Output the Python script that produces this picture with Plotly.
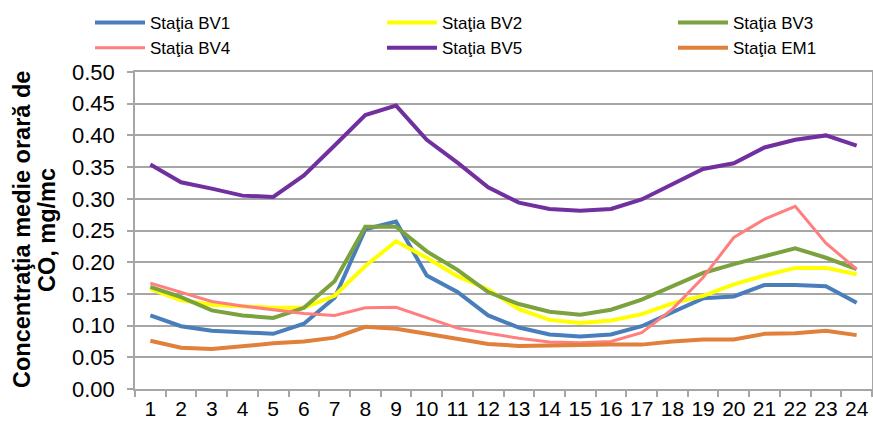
import plotly.graph_objects as go

# ore 1..24
hours = [str(h) for h in range(1, 25)]

bv1 = [0.116, 0.099, 0.092, 0.090, 0.087, 0.103, 0.144, 0.252, 0.264, 0.179, 0.153, 0.116,
       0.097, 0.086, 0.083, 0.086, 0.099, 0.121, 0.143, 0.146, 0.164, 0.164, 0.162, 0.136]
bv2 = [0.158, 0.140, 0.133, 0.131, 0.128, 0.128, 0.147, 0.194, 0.233, 0.207, 0.178, 0.157,
       0.126, 0.109, 0.104, 0.108, 0.118, 0.135, 0.147, 0.165, 0.179, 0.191, 0.191, 0.181]
bv3 = [0.161, 0.145, 0.124, 0.116, 0.112, 0.128, 0.170, 0.256, 0.256, 0.217, 0.188, 0.153,
       0.134, 0.122, 0.117, 0.125, 0.141, 0.162, 0.183, 0.197, 0.209, 0.222, 0.207, 0.189]
bv4 = [0.167, 0.153, 0.138, 0.131, 0.125, 0.119, 0.116, 0.128, 0.129, 0.112, 0.096, 0.088,
       0.080, 0.074, 0.073, 0.075, 0.089, 0.126, 0.176, 0.239, 0.268, 0.288, 0.230, 0.189]
bv5 = [0.354, 0.326, 0.316, 0.305, 0.303, 0.337, 0.384, 0.432, 0.447, 0.393, 0.357, 0.318,
       0.294, 0.284, 0.281, 0.284, 0.299, 0.323, 0.347, 0.356, 0.381, 0.393, 0.400, 0.384]
em1 = [0.076, 0.065, 0.063, 0.068, 0.072, 0.075, 0.081, 0.098, 0.095, 0.087, 0.079, 0.071,
       0.068, 0.069, 0.069, 0.070, 0.070, 0.075, 0.078, 0.078, 0.087, 0.088, 0.092, 0.085]

# (nume, valori, culoare, grosime, legenda = coloana)
series = [
    ("Staţia BV1", bv1, "#4a7ebb", 4, "legend"),
    ("Staţia BV2", bv2, "#ffff00", 4, "legend2"),
    ("Staţia BV3", bv3, "#7ba23f", 4, "legend3"),
    ("Staţia BV4", bv4, "#ff7f7f", 3, "legend"),
    ("Staţia BV5", bv5, "#7030a0", 4, "legend2"),
    ("Staţia EM1", em1, "#e0803a", 4, "legend3"),
]

FONT = "Liberation Sans, Arial, sans-serif"
GRID = "#a6a6a6"
W, H = 873, 425
ML, MR, MT, MB = 135, 1, 72, 36
PW = W - ML - MR
PH = H - MT - MB

fig = go.Figure()
for name, vals, color, w, lg in series:
    fig.add_trace(go.Scatter(
        x=hours, y=vals, name=name, mode="lines",
        line=dict(color=color, width=w), legend=lg,
    ))

fig.update_xaxes(
    type="category", range=[-0.5, 23.5],
    tickson="boundaries", ticks="outside", ticklen=6, tickcolor=GRID, tickwidth=1.5,
    showline=True, linecolor=GRID, linewidth=1.5, mirror=True,
    showgrid=False, tickangle=0,
    tickfont=dict(size=21, color="#000000"),
)
fig.update_yaxes(
    range=[0, 0.5], dtick=0.05, tickformat=".2f",
    ticks="outside", ticklen=6, tickcolor=GRID, tickwidth=1.5,
    showline=True, linecolor=GRID, linewidth=1.5, mirror=True,
    showgrid=True, gridcolor=GRID, gridwidth=1.5, zeroline=False,
    ticklabelstandoff=8,
    tickfont=dict(size=22, color="#000000"),
)

# titlu axa Y: doua randuri, fiecare ca adnotare rotita
for txt, x_px in [("Concentraţia medie orară de", 22), ("CO, mg/mc", 47)]:
    fig.add_annotation(
        text=f"<b>{txt}</b>",
        xref="paper", yref="paper",
        x=(x_px - ML) / PW, y=(389 - 230) / PH,
        xanchor="center", yanchor="middle",
        textangle=-90, showarrow=False,
        font=dict(size=23.5, color="#000000", family=FONT),
    )

# legenda: trei coloane, cate doua randuri
def col_legend(x_px):
    return dict(
        orientation="v",
        x=(x_px - ML) / PW, y=1 + (MT - 5) / PH,
        xanchor="left", yanchor="top",
        itemwidth=50, tracegroupgap=0,
        font=dict(size=17, color="#000000"),
        bgcolor="rgba(0,0,0,0)",
    )

fig.update_layout(
    width=W, height=H,
    margin=dict(l=ML, r=MR, t=MT, b=MB, autoexpand=False),
    paper_bgcolor="white", plot_bgcolor="white",
    font=dict(family=FONT, color="#000000"),
    legend=col_legend(90),
    legend2=col_legend(382),
    legend3=col_legend(673),
)

fig.write_html(
    "out.html",
    config={"displayModeBar": False},
    post_script="document.body.style.margin='0';",
)
